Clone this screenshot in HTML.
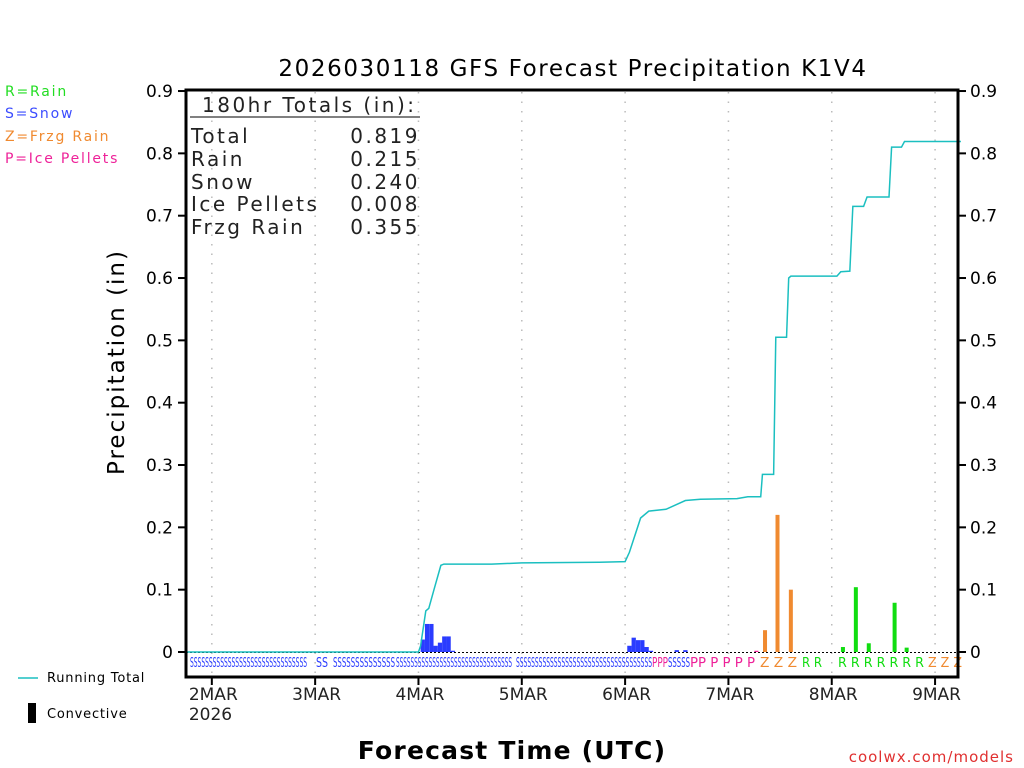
<!DOCTYPE html>
<html><head><meta charset="utf-8"><style>
body{margin:0;background:#fff;width:1024px;height:768px;overflow:hidden}
svg{display:block;font-family:"DejaVu Sans","Liberation Sans",sans-serif}
</style></head><body>
<svg id="chart" width="1024" height="768" viewBox="0 0 1024 768">
<text x="573" y="76" font-size="23" letter-spacing="1.6" text-anchor="middle" fill="#000">2026030118 GFS Forecast Precipitation K1V4</text>
<g font-size="14" letter-spacing="1.8">
<text x="5" y="96" fill="#22dd22">R=Rain</text>
<text x="5" y="118" fill="#3b4cff">S=Snow</text>
<text x="5" y="141" fill="#f08a30">Z=Frzg Rain</text>
<text x="5" y="163" fill="#ee2299">P=Ice Pellets</text>
</g>
<g id="grid"></g>
<g id="bars"></g>
<g id="line"></g>
<g id="letters" font-size="13"></g>
<rect x="186" y="90" width="772" height="587" fill="none" stroke="#000" stroke-width="3"/>
<g id="axes" font-size="17"></g>
<g font-size="20" fill="#222" letter-spacing="2.5">
<text x="202" y="112">180hr Totals (in):</text>
<line x1="190" y1="117" x2="420" y2="117" stroke="#000" stroke-width="1"/>
<text x="191" y="143">Total</text><text x="420" y="143" text-anchor="end">0.819</text>
<text x="191" y="166">Rain</text><text x="420" y="166" text-anchor="end">0.215</text>
<text x="191" y="189">Snow</text><text x="420" y="189" text-anchor="end">0.240</text>
<text x="191" y="211">Ice Pellets</text><text x="420" y="211" text-anchor="end">0.008</text>
<text x="191" y="234">Frzg Rain</text><text x="420" y="234" text-anchor="end">0.355</text>
</g>
<text x="124" y="362" font-size="23" letter-spacing="2" text-anchor="middle" transform="rotate(-90 124 362)">Precipitation (in)</text>
<text x="512" y="759" font-size="25" letter-spacing="1.2" font-weight="bold" text-anchor="middle">Forecast Time (UTC)</text>
<text x="1014" y="762" font-size="15" letter-spacing="1" fill="#e03030" text-anchor="end">coolwx.com/models</text>
<line x1="18" y1="678" x2="38" y2="678" stroke="#1bbfc0" stroke-width="1.5"/>
<text x="47" y="682" font-size="13" letter-spacing="0.8">Running Total</text>
<rect x="28" y="703" width="8" height="20" fill="#000"/>
<text x="47" y="718" font-size="13" letter-spacing="0.8">Convective</text>
</svg>
<script>
const dayLabels=["2MAR","3MAR","4MAR","5MAR","6MAR","7MAR","8MAR","9MAR"];
const dayHours=[6,30,54,78,102,126,150,174];
const yTicks=[0,0.1,0.2,0.3,0.4,0.5,0.6,0.7,0.8,0.9];
const barHours=[55,56,57,58,59,60,61,62,103,104,105,106,107,108,114,116,132.5,134.5,137.4,140.5,152.6,155.6,158.6,164.6,167.4];
const barValues=[0.02,0.045,0.045,0.01,0.015,0.025,0.025,0.002,0.01,0.023,0.019,0.019,0.008,0.002,0.003,0.003,0.002,0.035,0.22,0.1,0.008,0.104,0.014,0.079,0.007];
const barTypes=["S","S","S","S","S","S","S","S","S","S","S","S","S","S","S","S","P","Z","Z","Z","R","R","R","R","R"];
const totalHours=[0,54,54.5,55.7,56.4,57.6,59.2,59.9,71,78,96,102,103,105.6,107.5,111.5,116,119.5,128,130.5,133.5,133.9,136.5,137,139.5,140,140.5,151.2,152.1,154.2,154.9,157.4,158.2,163.3,163.9,166.2,166.9,180];
const totalValues=[0,0,0.01,0.066,0.07,0.1,0.139,0.141,0.141,0.143,0.144,0.145,0.16,0.215,0.226,0.229,0.243,0.245,0.246,0.249,0.249,0.285,0.285,0.505,0.505,0.6,0.603,0.603,0.61,0.611,0.715,0.715,0.73,0.73,0.81,0.81,0.819,0.819];
const typeColor={S:"#2a3cff",Z:"#f08a30",R:"#11dd11",P:"#ee2299"};
const X=h=>186+h*4.305, Y=v=>652-v*623.3;
const NS="http://www.w3.org/2000/svg";
function mk(t,a,p){const e=document.createElementNS(NS,t);for(const k in a)e.setAttribute(k,a[k]);p.appendChild(e);return e;}
const grid=document.getElementById('grid'),axes=document.getElementById('axes');
dayHours.forEach((h,i)=>{
 const g=mk('line',{x1:X(h),x2:X(h),y1:92,y2:675,stroke:'#bbb','stroke-width':1.5,'stroke-dasharray':'1.5 8'},grid);
 
 
 mk('line',{x1:X(h),x2:X(h),y1:677,y2:685,stroke:'#000','stroke-width':2},axes);
 const t=mk('text',{x:X(h)-23,y:700,fill:'#222'},axes);t.textContent=dayLabels[i];
 
 
});
const yr=mk('text',{x:X(6)-23,y:720,fill:'#222'},axes);yr.textContent='2026';
yTicks.forEach(v=>{
 mk('line',{x1:178,x2:186,y1:Y(v),y2:Y(v),stroke:'#000','stroke-width':2},axes);
 mk('line',{x1:958,x2:966,y1:Y(v),y2:Y(v),stroke:'#000','stroke-width':2},axes);
 const lab=v===0?'0':v.toFixed(1);
 const a=mk('text',{x:173,y:Y(v)+6,'text-anchor':'end'},axes);a.textContent=lab;
 
 
 const b=mk('text',{x:970,y:Y(v)+6},axes);b.textContent=lab;
 
 
});
const bars=document.getElementById('bars');
barHours.forEach((h,i)=>{
 const v=barValues[i],t=barTypes[i];const w=t==='S'?4.3:4;
 const r=mk('rect',{x:X(h)-w/2,y:Y(v),width:w,height:652-Y(v),fill:typeColor[t]},bars);
 
 
});
mk('line',{x1:186,x2:958,y1:652.5,y2:652.5,stroke:'#000','stroke-width':1,'stroke-dasharray':'2 2'},bars);
const pts=totalHours.map((h,i)=>X(h)+','+Y(totalValues[i])).join(' ');
const pl=mk('polyline',{points:pts,fill:'none',stroke:'#1bbfc0','stroke-width':1.5},document.getElementById('line'));


const letters=document.getElementById('letters');
const segs=[[190,307,'SSSSSSSSSSSSSSSSSSSSSSSSSSSSSSS','S'],[316,328,'SS','S'],[333,395,'SSSSSSSSSSSSSS','S'],[396,512,'SSSSSSSSSSSSSSSSSSSSSSSSSSSSSSSS','S'],[516,652,'SSSSSSSSSSSSSSSSSSSSSSSSSSSSSSSSSSSS','S'],[652,668,'PPP','P'],[668,690,'SSSSS','S'],[690,755,'PP P P P P','P'],[760,797,'Z Z Z','Z'],[802,822,'R R','R'],[838,924,'R R R R R R R','R'],[928,962,'Z Z Z','Z']];
segs.forEach(s=>{const t=mk('text',{x:s[0],y:667,fill:typeColor[s[3]],textLength:s[1]-s[0],lengthAdjust:'spacingAndGlyphs'},letters);t.textContent=s[2];
 
 });
</script>
</body></html>
